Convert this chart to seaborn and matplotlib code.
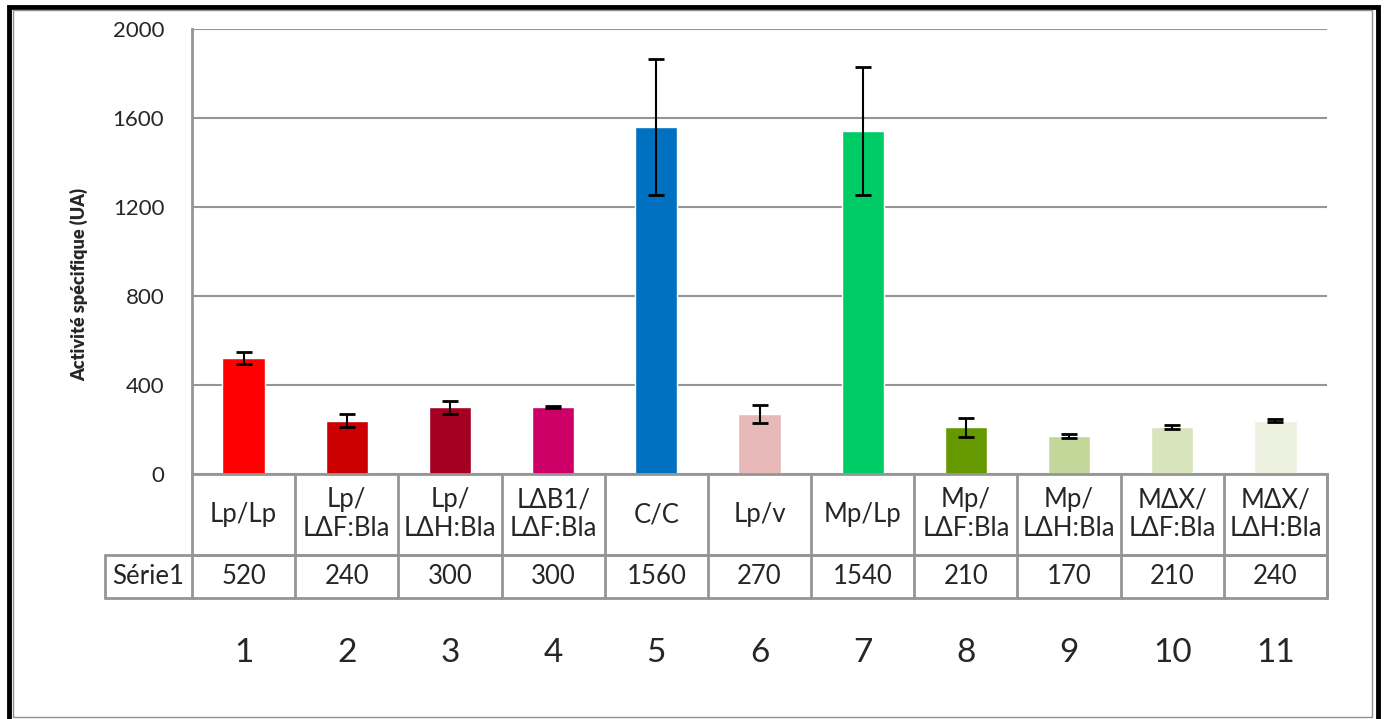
import seaborn as sns
import matplotlib
matplotlib.use('Agg')
from matplotlib import pyplot as plt
from matplotlib.patches import Rectangle
from matplotlib.transforms import blended_transform_factory

# data
labels = ['Lp/Lp', 'Lp/\nLΔF:Bla', 'Lp/\nLΔH:Bla', 'LΔB1/\nLΔF:Bla', 'C/C', 'Lp/v',
          'Mp/Lp', 'Mp/\nLΔF:Bla', 'Mp/\nLΔH:Bla', 'MΔX/\nLΔF:Bla', 'MΔX/\nLΔH:Bla']
numbers = ['1', '2', '3', '4', '5', '6', '7', '8', '9', '10', '11']
values = [520, 240, 300, 300, 1560, 270, 1540, 210, 170, 210, 240]
errors = [27, 30, 29, 4, 305, 40, 288, 42, 8, 8, 8]
colors = ['#FF0000', '#CC0000', '#A50021', '#CC0066', '#0070C0', '#E6B9B8',
          '#00CC66', '#669900', '#C4D79B', '#D8E4BC', '#EBF1DE']
series_name = 'Série1'
y_ticks = [0, 400, 800, 1200, 1600, 2000]

sns.set_style('white')
plt.rcParams['font.family'] = ['Lato', 'DejaVu Sans']

grid_c = '#959595'
W, H = 1384, 719
fig = plt.figure(figsize=(W / 100, H / 100), dpi=100)
ax = fig.add_axes([192 / W, 1 - 474 / H, (1327 - 192) / W, 445 / H])

sns.barplot(x=labels, y=values, hue=labels, palette=colors, legend=False,
            width=0.41, saturation=1, ax=ax)
ax.errorbar(range(len(values)), values, yerr=errors, fmt='none', ecolor='black',
            elinewidth=1.5, capsize=6, capthick=2)

ax.set_ylim(0, 2000)
ax.set_xlim(-0.5, len(values) - 0.5)
ax.set_yticks(y_ticks)
ax.set_yticklabels([str(t) for t in y_ticks], fontsize=16)
ax.tick_params(axis='y', length=0, pad=20)
ax.set_xticks([])
ax.set_xlabel('')
ax.set_ylabel('Activité spécifique (UA)', fontsize=13, fontweight='heavy')
ax.yaxis.set_label_coords(-(192 - 88) / 1135, 0.425)
ax.yaxis.grid(True, color=grid_c, linewidth=1.5)
ax.set_axisbelow(True)
for side in ['top', 'right']:
    ax.spines[side].set_visible(False)
for side in ['left', 'bottom']:
    ax.spines[side].set_color(grid_c)
    ax.spines[side].set_linewidth(2)

# data table below the plot (x in data units, y in axes fraction)
tr = blended_transform_factory(ax.transData, ax.transAxes)
row1 = -81 / 445
row2 = -124 / 445
left_lbl = -0.5 - 87 / 103.2
n = len(values)
lkw = dict(color=grid_c, linewidth=2, transform=tr, clip_on=False)
for i in range(n + 1):
    ax.plot([i - 0.5, i - 0.5], [0, row2], **lkw)
ax.plot([-0.5, n - 0.5], [row1, row1], **lkw)
ax.plot([left_lbl, n - 0.5], [row1, row1], **lkw)
ax.plot([left_lbl, n - 0.5], [row2, row2], **lkw)
ax.plot([left_lbl, left_lbl], [row1, row2], **lkw)
ax.plot([n - 0.5, n - 0.5], [0, row2], **lkw)
for i, (lab, val) in enumerate(zip(labels, values)):
    ax.text(i, row1 / 2, lab, transform=tr, ha='center', va='center',
            fontsize=18.5, linespacing=1.2)
    ax.text(i, (row1 + row2) / 2, str(val), transform=tr, ha='center',
            va='center', fontsize=18.5)
    ax.text(i, -179 / 445, numbers[i], transform=tr, ha='center',
            va='center', fontsize=24)
ax.text((left_lbl - 0.5) / 2, (row1 + row2) / 2, series_name, transform=tr,
        ha='center', va='center', fontsize=18.5)

# outer frames
fig.patches.append(Rectangle((9 / W, -0.01), (1378 - 9) / W, 1.01 - 6.5 / H,
                             transform=fig.transFigure, fill=False,
                             edgecolor='black', linewidth=3.5))
fig.patches.append(Rectangle((12.5 / W, 1 - 717 / H), (1372 - 12.5) / W, (717 - 9.5) / H,
                             transform=fig.transFigure, fill=False,
                             edgecolor='#909090', linewidth=1))

fig.savefig('out.png', dpi=100)
